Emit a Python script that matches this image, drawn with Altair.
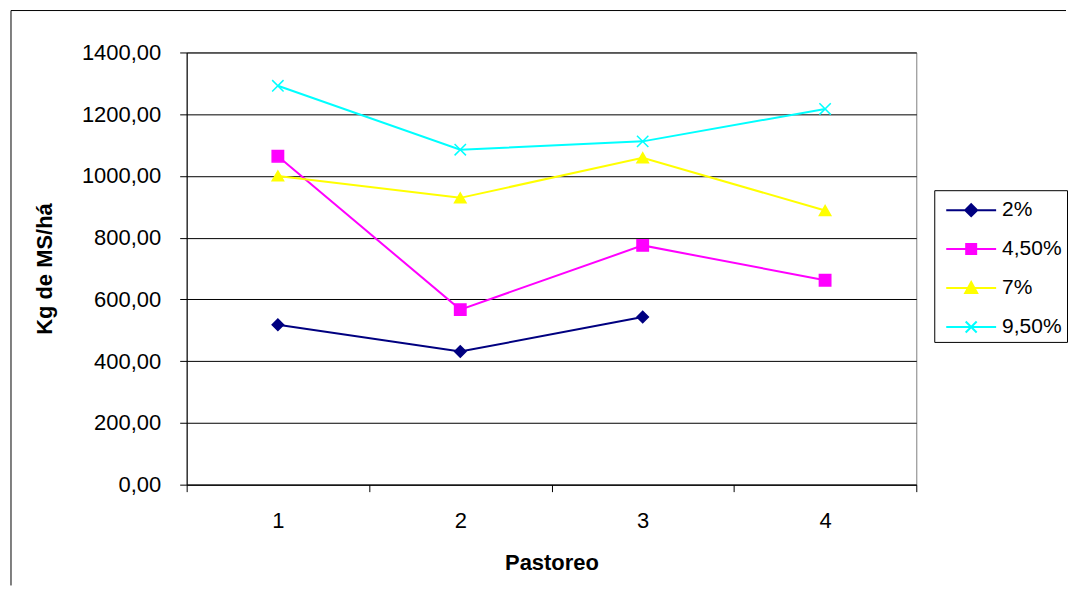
import altair as alt
import pandas as pd

pastoreo = [1, 2, 3, 4]
series = ["2%", "4,50%", "7%", "9,50%"]
v_2 = [518, 431, 543, None]
v_45 = [1064, 567, 775, 662]
v_7 = [1000, 929, 1059, 888]
v_95 = [1292, 1085, 1112, 1217]
colors = ["#000080", "#FF00FF", "#FFFF00", "#00FFFF"]
y_ticks = [0, 200, 400, 600, 800, 1000, 1200, 1400]

marker_shapes = ["diamond", "square", "triangle-up", "M-1,-1L1,1M1,-1L-1,1"]
legend_shapes = [
    "M-2.5,0H2.5M0,-0.6L0.6,0L0,0.6L-0.6,0Z",
    "M-2.5,0H2.5M-0.5,-0.5H0.5V0.5H-0.5Z",
    "M-2.5,0H2.5M0,-0.6L0.6,0.5H-0.6Z",
    "M-2.5,0H2.5M-0.55,-0.55L0.55,0.55M0.55,-0.55L-0.55,0.55",
]

rows = []
for s, vals in zip(series, [v_2, v_45, v_7, v_95]):
    for p, v in zip(pastoreo, vals):
        if v is not None:
            rows.append({"Pastoreo": p, "serie": s, "valor": v})
df = pd.DataFrame(rows)

FONT = "Liberation Sans"

x = alt.X(
    "Pastoreo:O",
    scale=alt.Scale(type="band", paddingInner=0, paddingOuter=0),
    axis=alt.Axis(
        title="Pastoreo", labelAngle=0, tickBand="extent", grid=False,
        labelPadding=19, titlePadding=21,
    ),
)
y = alt.Y(
    "valor:Q",
    scale=alt.Scale(domain=[0, 1400], nice=False, zero=True),
    axis=alt.Axis(
        title="Kg de MS/há", values=y_ticks,
        labelExpr="replace(format(datum.value, '.2f'), '.', ',')",
        grid=True, gridColor="#000000", gridWidth=1,
        labelPadding=19, titlePadding=25,
    ),
)

lines = alt.Chart(df).mark_line(strokeWidth=2).encode(
    x=x, y=y,
    color=alt.Color("serie:N", scale=alt.Scale(domain=series, range=colors), legend=None),
)

points = alt.Chart(df).mark_point(filled=True, opacity=1, strokeWidth=1.5, size=130).encode(
    x=x, y=y,
    fill=alt.Fill("serie:N", scale=alt.Scale(domain=series, range=colors), legend=None),
    stroke=alt.Stroke("serie:N", scale=alt.Scale(domain=series, range=colors), legend=None),
    shape=alt.Shape("serie:N", scale=alt.Scale(domain=series, range=marker_shapes), legend=None),
)

leg = alt.Legend(
    title=" ", titleFontSize=3, titlePadding=1,
    orient="none", legendX=749, legendY=138,
    strokeColor="#000000", fillColor="#FFFFFF", padding=5,
    labelFont=FONT, labelFontSize=21, labelColor="#000000",
    symbolSize=400, symbolStrokeWidth=2, symbolOffset=21, labelOffset=20,
    rowPadding=18,
)

legend_layer = alt.Chart(df).transform_filter("false").mark_point(
    filled=True, opacity=1, strokeWidth=2, size=400
).encode(
    x=x, y=y,
    fill=alt.Fill("serie:N", scale=alt.Scale(domain=series, range=colors), legend=leg),
    stroke=alt.Stroke("serie:N", scale=alt.Scale(domain=series, range=colors), legend=leg),
    shape=alt.Shape("serie:N", scale=alt.Scale(domain=series, range=legend_shapes), legend=leg),
)

frame_df = pd.DataFrame({"k": [0]})
frame_top = alt.Chart(frame_df).mark_rule(color="#000000", strokeWidth=1).encode(
    x=alt.value(-176), x2=alt.value(881), y=alt.value(-42)
)
frame_left = alt.Chart(frame_df).mark_rule(color="#000000", strokeWidth=1).encode(
    x=alt.value(-176), y=alt.value(-42), y2=alt.value(534)
)

chart = alt.layer(frame_top, frame_left, lines, points, legend_layer).resolve_scale(
    color="independent", fill="independent", stroke="independent", shape="independent"
).properties(
    width=731, height=433,
    padding={"left": 2, "top": 1, "right": 0, "bottom": 0},
    background="#FFFFFF",
).configure_view(
    stroke="#808080", strokeWidth=1
).configure_axis(
    labelFont=FONT, labelFontSize=22, labelColor="#000000",
    titleFont=FONT, titleFontSize=22, titleFontWeight="bold", titleColor="#000000",
    domainColor="#000000", domainWidth=1, tickColor="#000000", tickSize=7, tickWidth=1,
)

chart.save("out.html", embed_options={"renderer": "svg", "actions": False})
